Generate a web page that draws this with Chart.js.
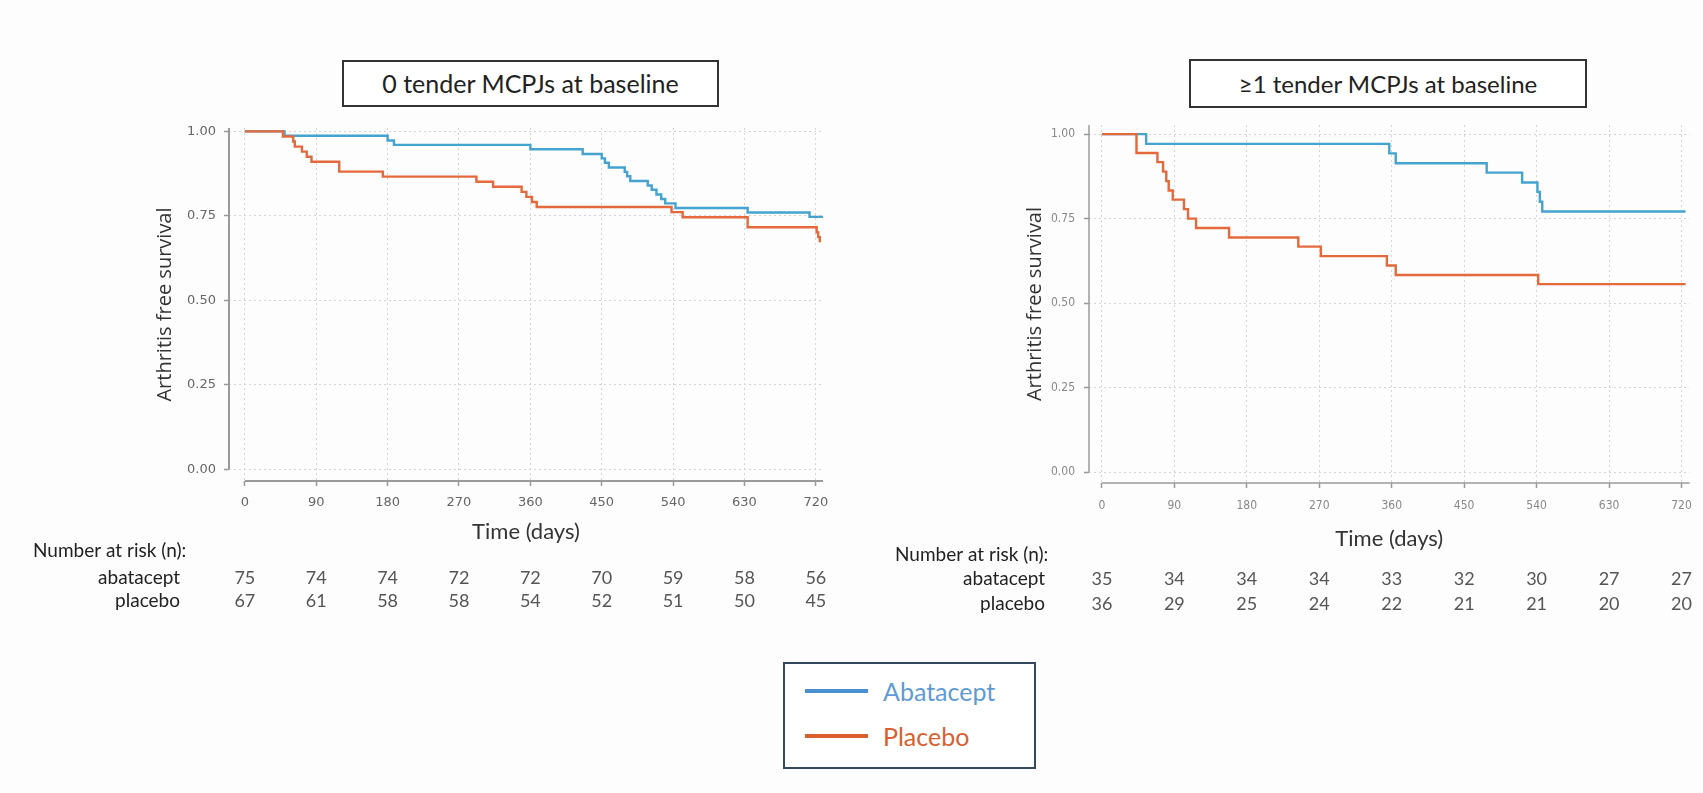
<!DOCTYPE html>
<html>
<head>
<meta charset="utf-8">
<title>Arthritis free survival by tender MCPJs at baseline</title>
<script src="https://cdn.jsdelivr.net/npm/chart.js@4.4.1/dist/chart.umd.min.js"></script>
<style>
  html, body { margin: 0; padding: 0; background: #fdfdfd; }
  body { width: 1703px; height: 793px; position: relative; overflow: hidden; font-family: Lato, "Open Sans", sans-serif; }
  canvas { position: absolute; top: 0; }
  .title-box { position: absolute; box-sizing: border-box; border: 2px solid #333; background: #fff;
               text-align: center; color: #222; }
  .legend { position: absolute; left: 783px; top: 662px; width: 253px; height: 107px; box-sizing: border-box;
            border: 2px solid #34495e; background: #fff; }
  .legend .swatch { position: absolute; left: 20px; width: 63px; height: 4px; }
  .legend .name { position: absolute; left: 98px; font-size: 25px; line-height: 30px; }
</style>
</head>
<body>

<div class="title-box" style="left:342px; top:60px; width:377px; height:47px; line-height:43px; font-size:25px;">0 tender MCPJs at baseline</div>
<div class="title-box" style="left:1189px; top:59px; width:398px; height:49px; line-height:45px; font-size:24px;">≥1 tender MCPJs at baseline</div>

<canvas id="leftPanel" width="860" height="640" style="left:0;"></canvas>
<canvas id="rightPanel" width="843" height="640" style="left:860px;"></canvas>

<div class="legend">
  <div class="swatch" style="top:25px; background:#4a8fd0;"></div>
  <div class="name" style="top:12px; color:#5e9bd6;">Abatacept</div>
  <div class="swatch" style="top:70px; background:#d9602e;"></div>
  <div class="name" style="top:57px; color:#d9602e;">Placebo</div>
</div>

<script>
// ---------------------------------------------
// Data: Kaplan-Meier steps (day, survival)
// ---------------------------------------------
const riskDays = [0, 90, 180, 270, 360, 450, 540, 630, 720];

// 0 tender MCPJs
const leftAbaDays = [0, 50, 180, 188, 360, 426, 450, 454, 459, 479, 482, 486, 508, 513, 519, 525, 530, 543, 634, 712, 729];
const leftAbaSurv = [1, 0.987, 0.973, 0.960, 0.947, 0.933, 0.920, 0.907, 0.893, 0.880, 0.867, 0.853, 0.840, 0.827, 0.813, 0.800, 0.787, 0.773, 0.760, 0.747, 0.747];
const leftPlaDays = [0, 48, 61, 63, 72, 78, 84, 119, 174, 292, 313, 349, 355, 362, 368, 538, 552, 634, 721, 723, 725];
const leftPlaSurv = [1, 0.985, 0.970, 0.955, 0.940, 0.925, 0.910, 0.881, 0.866, 0.851, 0.836, 0.821, 0.806, 0.791, 0.776, 0.761, 0.746, 0.716, 0.701, 0.687, 0.672];
const leftRiskAba = [75, 74, 74, 72, 72, 70, 59, 58, 56];
const leftRiskPla = [67, 61, 58, 58, 54, 52, 51, 50, 45];

// >=1 tender MCPJs
const rightAbaDays = [0, 55, 357, 365, 478, 522, 541, 544, 547, 725];
const rightAbaSurv = [1, 0.971, 0.943, 0.914, 0.886, 0.857, 0.829, 0.800, 0.771, 0.771];
const rightPlaDays = [0, 43, 69, 76, 80, 83, 88, 102, 107, 117, 158, 244, 272, 354, 365, 542, 725];
const rightPlaSurv = [1, 0.944, 0.917, 0.889, 0.861, 0.833, 0.806, 0.778, 0.750, 0.722, 0.694, 0.667, 0.639, 0.611, 0.583, 0.556, 0.556];
const rightRiskAba = [35, 34, 34, 34, 33, 32, 30, 27, 27];
const rightRiskPla = [36, 29, 25, 24, 22, 21, 21, 20, 20];

// ---------------------------------------------
// Styling
// ---------------------------------------------
const BLUE = '#44a3cf';
const ORANGE = '#e4693c';
const GRID = '#d4d4d4';
const AXIS = '#9a9a9a';

function toPoints(days, surv) {
    return days.map((d, i) => ({ x: d, y: surv[i] }));
}

// ---------------------------------------------
// Panel builder
// ---------------------------------------------
function makePanel(id, p) {
    // detached axis lines (y from top to 0, x from day 0 to the end)
    const axisLines = {
        id: 'axisLines',
        afterDraw(chart) {
            const { ctx, chartArea, scales: { x, y } } = chart;
            ctx.save();
            ctx.strokeStyle = AXIS;
            ctx.lineWidth = p.axisWidth;
            ctx.beginPath();
            ctx.moveTo(chartArea.left, chartArea.top);
            ctx.lineTo(chartArea.left, y.getPixelForValue(0));
            ctx.moveTo(x.getPixelForValue(0), chartArea.bottom);
            ctx.lineTo(chartArea.right, chartArea.bottom);
            ctx.stroke();
            ctx.restore();
        }
    };

    // number-at-risk table under the x axis
    const riskTable = {
        id: 'riskTable',
        afterDraw(chart) {
            const { ctx, scales: { x } } = chart;
            ctx.save();
            ctx.textBaseline = 'middle';
            ctx.fillStyle = '#222';
            ctx.font = p.labelFont;
            ctx.textAlign = 'left';
            ctx.fillText('Number at risk (n):', p.headerX, p.headerY);
            const rows = [['abatacept', p.riskAba], ['placebo', p.riskPla]];
            rows.forEach(([name, values], r) => {
                const ry = p.rowY[r];
                ctx.font = p.labelFont;
                ctx.fillStyle = '#222';
                ctx.textAlign = 'right';
                ctx.fillText(name, p.labelX, ry);
                ctx.font = p.numFont;
                ctx.fillStyle = p.numColor;
                ctx.textAlign = 'center';
                values.forEach((v, i) => ctx.fillText(String(v), x.getPixelForValue(riskDays[i]), ry));
            });
            ctx.restore();
        }
    };

    return new Chart(document.getElementById(id), {
        type: 'line',
        data: {
            datasets: [
                { label: 'Abatacept', data: toPoints(p.abaDays, p.abaSurv), borderColor: BLUE, order: 1 },
                { label: 'Placebo', data: toPoints(p.plaDays, p.plaSurv), borderColor: ORANGE, order: 0 }
            ]
        },
        options: {
            responsive: false,
            animation: false,
            events: [],
            layout: { padding: p.padding },
            elements: {
                line: { stepped: 'before', borderWidth: 2.4, tension: 0, fill: false },
                point: { radius: 0 }
            },
            plugins: { legend: { display: false }, tooltip: { enabled: false } },
            scales: {
                x: {
                    type: 'linear',
                    min: p.xMin,
                    max: p.xMax,
                    afterFit: s => { s.height = p.xAxisHeight; },
                    border: { display: false, dash: [2, 3] },
                    grid: { color: GRID, lineWidth: 1, drawTicks: true, tickLength: 5, tickColor: AXIS, tickWidth: 1.5, tickBorderDash: [] },
                    ticks: { stepSize: 90, includeBounds: false, autoSkip: false, maxRotation: 0, padding: p.xTickPad, color: p.tickColor, font: p.tickFont },
                    title: { display: true, text: 'Time (days)', color: '#333', padding: 0, font: { family: 'Lato', size: 22 } }
                },
                y: {
                    type: 'linear',
                    min: p.yMin,
                    max: p.yMax,
                    afterFit: s => { s.width = p.yAxisWidth; },
                    border: { display: false, dash: [2, 3] },
                    grid: { color: GRID, lineWidth: 1, drawTicks: true, tickLength: 5, tickColor: AXIS, tickWidth: 1.5, tickBorderDash: [] },
                    ticks: { stepSize: 0.25, includeBounds: false, padding: p.yTickPad, color: p.tickColor, font: p.tickFont,
                             callback: v => v.toFixed(2) },
                    title: { display: true, text: 'Arthritis free survival', color: '#333', padding: 0, font: { family: 'Open Sans', size: 20 } }
                }
            }
        },
        plugins: [axisLines, riskTable]
    });
}

// ---------------------------------------------
// Build both panels
// ---------------------------------------------
makePanel('leftPanel', {
    abaDays: leftAbaDays, abaSurv: leftAbaSurv, plaDays: leftPlaDays, plaSurv: leftPlaSurv,
    riskAba: leftRiskAba, riskPla: leftRiskPla,
    xMin: -20, xMax: 729, yMin: -0.035, yMax: 1.01,
    padding: { left: 153, top: 128, right: 37, bottom: 95 },
    yAxisWidth: 76, xAxisHeight: 64, xTickPad: 9, yTickPad: 8, axisWidth: 2,
    tickColor: '#666', tickFont: { family: 'DejaVu Sans', size: 13 },
    labelFont: '19px Lato', numFont: '18px Lato', numColor: '#555',
    headerX: 33, headerY: 551, labelX: 180, rowY: [578, 601]
});

makePanel('rightPanel', {
    abaDays: rightAbaDays, abaSurv: rightAbaSurv, plaDays: rightPlaDays, plaSurv: rightPlaSurv,
    riskAba: rightRiskAba, riskPla: rightRiskPla,
    xMin: -16, xMax: 730, yMin: -0.0325, yMax: 1.027,
    padding: { left: 163, top: 125, right: 12, bottom: 88 },
    yAxisWidth: 66, xAxisHeight: 69, xTickPad: 11, yTickPad: 9, axisWidth: 1.5,
    tickColor: '#888', tickFont: { family: 'DejaVu Sans Condensed', size: 12 },
    labelFont: '19px Lato', numFont: '18px Lato', numColor: '#555',
    headerX: 35, headerY: 555, labelX: 185, rowY: [579, 604]
});
</script>
</body>
</html>
